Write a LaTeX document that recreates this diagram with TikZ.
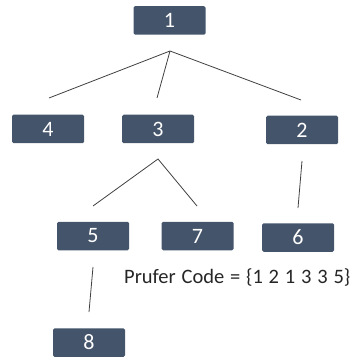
\documentclass[tikz,border=0pt]{standalone}
\usepackage{fontspec}
\setmainfont{Carlito}
\definecolor{boxblue}{HTML}{44546A}
\definecolor{linegray}{HTML}{404040}
\begin{document}
\begin{tikzpicture}[x=1pt,y=-1pt,
  nbox/.style={fill=boxblue, draw=none, rounded corners=1.5pt, minimum width=72pt, minimum height=28.5pt, inner sep=0pt, text=white, font=\fontsize{22}{22}\selectfont},
  edge/.style={draw=linegray, line width=0.8pt}]
\useasboundingbox (0,0) rectangle (354,358);
\node[nbox] (n1) at (169.5,20.5) {1};
\node[nbox] (n4) at (48,129) {4};
\node[nbox] (n3) at (158,129) {3};
\node[nbox] (n2) at (302,130) {2};
\node[nbox] (n5) at (93,236) {5};
\node[nbox] (n7) at (197.5,236) {7};
\node[nbox] (n6) at (298,237.5) {6};
\node[nbox] (n8) at (89,342.5) {8};
\coordinate (a1) at (170,51);
\coordinate (e4) at (49,98);
\coordinate (e3) at (157,98);
\coordinate (e2) at (301,100);
\coordinate (a3) at (158,159);
\coordinate (e5) at (93,206);
\coordinate (e7) at (197,206);
\coordinate (s2) at (302,161);
\coordinate (e6) at (298,208);
\coordinate (s5) at (93,267);
\coordinate (e8) at (89,312);
\draw[edge] (e4) -- (a1) -- (e2);
\draw[edge] (a1) -- (e3);
\draw[edge] (e5) -- (a3) -- (e7);
\draw[edge] (s2) -- (e6);
\draw[edge] (s5) -- (e8);
\node[anchor=west, inner sep=0pt, text=black!85, font=\fontsize{20.5}{20.5}\selectfont] (code) at (124,277) {\spaceskip=5.8pt Prufer Code = \{1 2 1 3 3 5\}};
\end{tikzpicture}
\end{document}
